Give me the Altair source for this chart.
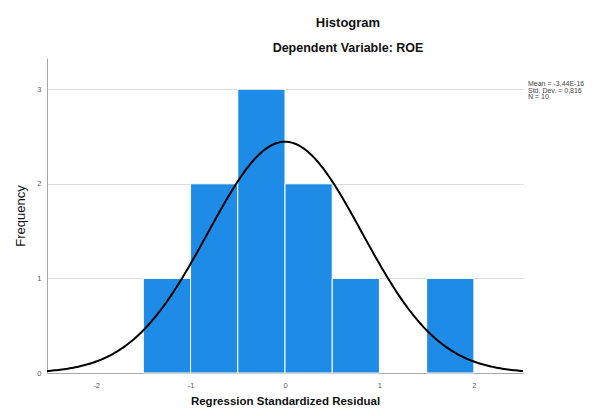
import altair as alt
import pandas as pd

# ---- data ----
bin_starts = [-1.5, -1.0, -0.5, 0.0, 0.5, 1.5]
bin_ends = [-1.0, -0.5, 0.0, 0.5, 1.0, 2.0]
counts = [1, 2, 3, 2, 1, 1]
stat_mean = -3.44e-16
stat_sd = 0.816
stat_n = 10
bin_width = 0.5
stat_lines = ["Mean = -3,44E-16", "Std. Dev. = 0,816", "N = 10"]
x_ticks = [-2, -1, 0, 1, 2]
y_ticks = [0, 1, 2, 3]

FONT = "Liberation Sans"
W, H = 476, 315

bars_df = pd.DataFrame({"start": bin_starts, "end": bin_ends,
                        "count": counts, "base": [0] * len(counts)})

xscale = alt.Scale(domain=[-2.52, 2.52], nice=False, zero=False)
yscale = alt.Scale(domain=[0, 3.33], nice=False)

x_axis = alt.Axis(values=x_ticks, grid=False, ticks=False, labelPadding=8,
                  titlePadding=7, labelExpr="'' + datum.value")
y_axis = alt.Axis(values=y_ticks, grid=True, ticks=False, labelPadding=6,
                  titlePadding=9, titleFontWeight="normal", titleFontSize=13,
                  labelExpr="'' + datum.value")
X_TITLE = "Regression Standardized Residual"
Y_TITLE = "Frequency"

bars = alt.Chart(bars_df).mark_rect(
    color="#1e8ce6", stroke="white", strokeWidth=1
).encode(
    x=alt.X("start:Q", scale=xscale, axis=x_axis, title=X_TITLE),
    x2="end:Q",
    y=alt.Y("count:Q", scale=yscale, axis=y_axis, title=Y_TITLE),
    y2="base:Q",
)

density_expr = (
    f"{stat_n * bin_width} / ({stat_sd} * sqrt(2 * PI)) * "
    f"exp(-pow(datum.x - ({stat_mean}), 2) / (2 * {stat_sd} * {stat_sd}))"
)
curve = alt.Chart(alt.sequence(-2.52, 2.53, 0.02, as_="x")).transform_calculate(
    y=density_expr
).mark_line(color="black", strokeWidth=2, clip=True).encode(
    x=alt.X("x:Q", scale=xscale, axis=x_axis, title=X_TITLE),
    y=alt.Y("y:Q", scale=yscale, axis=y_axis, title=Y_TITLE),
)

stats = alt.Chart(pd.DataFrame({"k": [0]})).mark_text(
    text=stat_lines, align="left", baseline="top", fontSize=7,
    lineHeight=6.5, font=FONT, color="#444444", x=W + 5, y=22
)

chart = alt.layer(bars, curve, stats).properties(
    width=W, height=H,
    autosize=alt.AutoSizeParams(type="none"),
    padding={"left": 39, "top": 50, "right": 65, "bottom": 34},
    title=alt.TitleParams(
        text="Histogram", subtitle="Dependent Variable: ROE",
        anchor="middle", frame="group", dx=63, offset=4,
        font=FONT, subtitleFont=FONT, fontSize=13, subtitleFontSize=12.5,
        fontWeight="bold", subtitleFontWeight="bold",
        color="#111111", subtitleColor="#111111", subtitlePadding=12,
    ),
).configure_view(stroke=None).configure_axis(
    labelFont=FONT, titleFont=FONT, labelFontSize=7.5, labelColor="#555555",
    titleFontSize=11.5, titleFontWeight="bold", titleColor="#111111",
    domainColor="#a8a8a8", gridColor="#dcdcdc", domainWidth=1,
)

chart.save("out.html", embed_options={"renderer": "svg", "actions": False})
